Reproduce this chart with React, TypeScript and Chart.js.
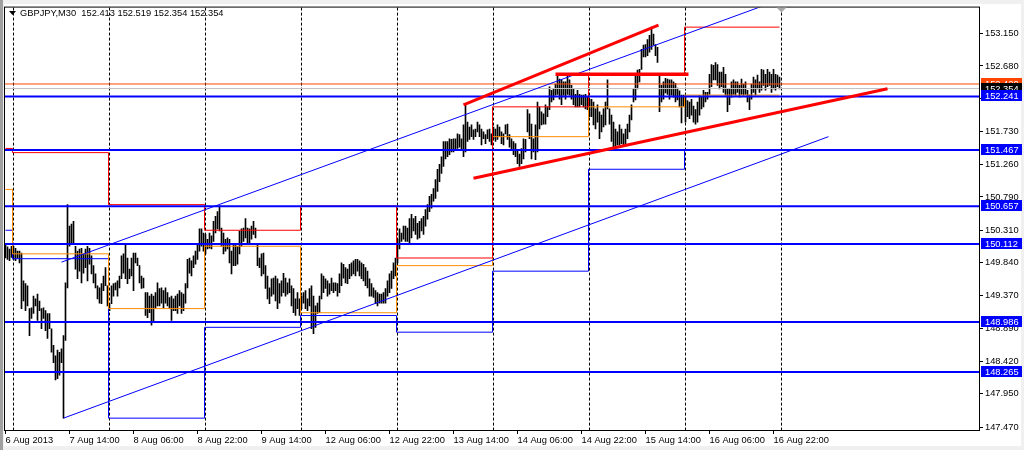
import React, { useEffect, useRef } from "react";
import { Chart, registerables } from "chart.js";
Chart.register(...registerables);

const titleText = "GBPJPY,M30  152.413 152.519 152.354 152.354";

const timeLabels = [
  "6 Aug 2013", "7 Aug 14:00", "8 Aug 06:00", "8 Aug 22:00", "9 Aug 14:00",
  "12 Aug 06:00", "12 Aug 22:00", "13 Aug 14:00", "14 Aug 06:00", "14 Aug 22:00",
  "15 Aug 14:00", "16 Aug 06:00", "16 Aug 22:00",
];
const timeLabelBars = [0, 32, 64, 96, 128, 160, 192, 224, 256, 288, 320, 352, 384];
const dayStartBars = [4, 52, 100, 148, 196, 244, 292, 340, 388];

const yTickValues = [153.15, 152.68, 152.21, 151.73, 151.26, 150.79, 150.31, 149.84, 149.37, 148.89, 148.42, 147.95, 147.47];

const barHigh = [
  150.10,150.07,150.04,150.08,150.08,150.05,150.01,150.01,149.98,149.58,
  149.54,149.51,149.18,149.19,149.36,149.32,149.39,149.29,149.18,149.19,
  149.15,149.11,149.11,148.89,148.65,148.50,148.58,148.55,148.60,148.79,
  149.55,150.68,150.37,150.40,150.44,150.08,150.01,150.04,150.05,149.97,
  150.04,150.08,150.05,149.94,149.80,149.68,149.51,149.48,149.54,149.65,
  149.77,149.51,149.25,149.51,149.54,149.55,149.58,149.65,149.94,149.97,
  150.11,149.91,149.75,149.91,149.98,149.98,149.91,149.80,149.65,149.62,
  149.41,149.41,149.36,149.39,149.36,149.41,149.55,149.47,149.48,149.44,
  149.48,149.41,149.34,149.36,149.32,149.36,149.39,149.44,149.41,149.39,
  149.54,149.89,149.91,149.87,149.94,150.01,150.12,150.33,150.33,150.27,
  150.25,150.18,150.27,150.23,150.44,150.51,150.58,150.66,150.34,150.27,
  150.18,150.20,150.18,150.01,150.12,150.11,150.08,150.30,150.33,150.34,
  150.48,150.34,150.33,150.37,150.44,150.34,150.12,149.91,149.97,149.98,
  149.80,149.65,149.48,149.61,149.62,149.65,149.61,149.54,149.58,149.69,
  149.62,149.55,149.61,149.51,149.47,149.32,149.41,149.32,149.36,149.41,
  149.44,149.32,149.47,149.51,149.36,149.22,149.26,149.36,149.68,149.65,
  149.61,149.58,149.54,149.62,149.55,149.55,149.54,149.68,149.84,149.82,
  149.77,149.75,149.82,149.84,149.87,149.89,149.89,149.87,149.84,149.82,
  149.77,149.72,149.61,149.54,149.48,149.44,149.41,149.39,149.39,149.41,
  149.47,149.58,149.68,149.72,149.84,149.91,150.18,150.33,150.27,150.37,
  150.37,150.34,150.48,150.54,150.48,150.51,150.41,150.44,150.48,150.51,
  150.61,150.68,150.80,150.83,150.91,151.04,151.19,151.26,151.37,151.59,
  151.59,151.59,151.63,151.62,151.63,151.63,151.70,151.69,151.63,151.83,
  152.12,151.87,151.80,151.83,151.76,151.77,151.87,151.83,151.77,151.73,
  151.69,151.76,151.77,151.70,151.80,151.77,151.83,151.80,151.73,151.70,
  151.83,151.84,151.69,151.63,151.59,151.56,151.47,151.41,151.49,151.63,
  151.62,152.05,151.99,151.84,151.63,151.83,152.16,152.09,152.02,151.99,
  152.12,152.09,152.38,152.33,152.35,152.42,152.55,152.49,152.48,152.45,
  152.45,152.55,152.48,152.40,152.35,152.27,152.33,152.27,152.26,152.26,
  152.27,152.23,152.20,152.20,152.16,152.06,152.12,152.02,151.97,152.06,
  152.16,152.48,152.06,151.97,151.87,151.77,151.73,151.83,151.77,151.70,
  151.77,151.84,151.97,152.12,152.35,152.55,152.62,152.63,152.92,152.98,
  152.99,153.06,153.12,153.24,153.14,152.99,152.95,152.56,152.40,152.45,
  152.50,152.49,152.48,152.48,152.45,152.43,152.36,152.32,152.26,152.26,
  152.23,152.18,152.16,152.20,152.10,152.05,152.16,152.25,152.23,152.33,
  152.30,152.30,152.56,152.70,152.69,152.73,152.70,152.59,152.59,152.66,
  152.56,152.35,152.35,152.45,152.48,152.45,152.45,152.40,152.49,152.42,
  152.45,152.33,152.26,152.42,152.52,152.48,152.55,152.45,152.63,152.62,
  152.56,152.63,152.59,152.56,152.63,152.56,152.55,152.52,
];

const barLow = [
  149.91,149.89,149.87,149.92,149.89,149.87,149.91,149.84,149.18,149.29,
  149.15,149.22,148.79,149.04,149.11,149.22,149.01,149.15,148.89,149.04,
  148.86,148.75,148.89,148.55,148.40,148.15,148.17,148.22,148.40,147.60,
  148.72,149.48,150.08,150.11,150.11,149.75,149.61,149.72,149.55,149.69,
  149.77,149.58,149.82,149.68,149.55,149.48,149.32,149.26,149.25,149.44,
  149.51,149.22,149.15,149.25,149.36,149.45,149.36,149.48,149.61,149.69,
  149.61,149.54,149.61,149.65,149.44,149.84,149.80,149.55,149.47,149.48,
  149.08,149.05,149.12,148.94,148.98,149.18,149.22,149.22,149.26,149.19,
  149.26,149.22,149.18,149.01,149.15,149.15,149.11,149.22,149.11,149.15,
  149.26,149.48,149.69,149.65,149.77,149.82,149.89,150.01,150.08,150.01,
  149.97,150.04,150.05,150.04,150.15,150.27,150.33,150.30,150.08,149.97,
  150.01,150.04,149.84,149.68,149.80,149.80,149.82,149.97,150.08,150.15,
  150.20,150.12,150.11,150.18,150.25,150.20,149.80,149.77,149.65,149.68,
  149.47,149.32,149.25,149.36,149.39,149.29,149.18,149.26,149.36,149.41,
  149.36,149.39,149.41,149.22,149.12,149.08,149.18,149.08,149.18,149.26,
  149.18,149.15,149.22,148.89,148.82,148.91,149.11,149.12,149.32,149.41,
  149.47,149.36,149.39,149.44,149.41,149.44,149.36,149.41,149.51,149.62,
  149.55,149.54,149.61,149.65,149.68,149.65,149.72,149.65,149.61,149.58,
  149.51,149.48,149.36,149.36,149.34,149.25,149.22,149.26,149.26,149.26,
  149.26,149.36,149.41,149.47,149.61,149.65,149.84,150.04,150.15,150.18,
  150.15,150.15,150.12,150.20,150.30,150.25,150.18,150.20,150.30,150.25,
  150.37,150.47,150.58,150.63,150.73,150.77,150.87,151.01,151.13,151.23,
  151.34,151.37,151.40,151.44,151.44,151.47,151.49,151.51,151.47,151.37,
  151.44,151.59,151.62,151.66,151.62,151.66,151.73,151.66,151.54,151.63,
  151.56,151.63,151.59,151.54,151.63,151.59,151.62,151.66,151.56,151.54,
  151.70,151.62,151.51,151.47,151.40,151.37,151.27,151.23,151.27,151.34,
  151.44,151.73,151.63,151.34,151.44,151.33,151.44,151.77,151.83,151.84,
  151.84,151.95,152.05,152.16,152.19,152.26,152.27,152.20,152.12,152.26,
  152.20,152.27,152.26,152.20,152.12,152.09,152.09,152.09,152.12,152.09,
  152.06,152.05,151.95,151.95,151.83,151.77,151.87,151.63,151.73,151.80,
  151.83,152.06,151.84,151.59,151.51,151.51,151.54,151.54,151.56,151.54,
  151.54,151.63,151.73,151.90,152.16,152.19,152.35,152.45,152.63,152.81,
  152.81,152.83,152.88,152.92,152.98,152.83,152.73,152.02,152.16,152.20,
  152.29,152.27,152.20,152.26,152.23,152.16,152.19,152.09,151.86,152.10,
  151.87,151.95,151.92,151.97,151.87,151.84,151.87,151.97,152.06,152.09,
  152.16,152.20,152.27,152.38,152.48,152.48,152.40,152.35,152.38,152.30,
  152.26,152.02,152.12,152.23,152.27,152.26,152.30,152.23,152.27,152.26,
  152.27,152.16,152.05,152.20,152.30,152.26,152.35,152.30,152.33,152.40,
  152.33,152.38,152.40,152.30,152.35,152.33,152.38,152.35,
];

// horizontal support/resistance levels (blue)
const levelPrices = [152.241, 151.467, 150.657, 150.112, 148.986, 148.265];
const askPrice = 152.42;
const bidPrice = 152.354;

// previous-day indicator step lines (value switches at the end of each day)
const stepStarts = [0, 3.5, 51.5, 99.5, 147.5, 195.5, 243.5, 291.5, 339.5];
const stepEndBar = 387;
const prevDayHigh = [151.49, 151.43, 150.68, 150.31, 150.66, 149.91, 152.09, 152.56, 153.24];
const prevDayClose = [150.90, 149.97, 149.18, 150.08, 149.12, 149.80, 151.66, 152.09, 152.26];
const prevDayLow = [150.31, 149.90, 147.60, 148.91, 149.08, 148.84, 149.72, 151.19, 151.47];

// trend lines: [bar, price] pairs
const channelUpperBars = [28, 380];
const channelUpperPrices = [149.85, 153.56];
const channelLowerBars = [29, 411.5];
const channelLowerPrices = [147.60, 151.66];
const wedgeTopBars = [229, 326.5];
const wedgeTopPrices = [152.12, 153.27];
const wedgeBottomBars = [234, 441];
const wedgeBottomPrices = [151.06, 152.35];
const flatTopBars = [275, 341.5];
const flatTopPrices = [152.56, 152.56];

const X_MIN = -0.25;
const X_MAX = 486.75;
const Y_MIN = 147.429;
const Y_MAX = 153.522;

const FONT = "Liberation Sans";
const FSIZE = 9.3;

function pts(bars: number[], prices: number[]) {
  return bars.map((b, i) => ({ x: b, y: prices[i] }));
}
function steps(vals: number[]) {
  const d = stepStarts.map((s, k) => ({ x: s, y: vals[k] }));
  d.push({ x: stepEndBar, y: vals[vals.length - 1] });
  return d;
}

const decorPlugin = {
  id: "decor",
  beforeDraw(chart: any) {
    const ctx = chart.ctx;
    ctx.save();
    ctx.fillStyle = "#F0F0F0";
    ctx.fillRect(0, 0, chart.width, chart.height);
    ctx.fillStyle = "#FFFFFF";
    ctx.fillRect(4, 4, 1017, 442);
    ctx.fillStyle = "#A0A0A0";
    ctx.fillRect(0, 0, 3, chart.height);
    ctx.restore();
  },
  beforeDatasetsDraw(chart: any) {
    const ctx = chart.ctx;
    const a = chart.chartArea;
    const xs = chart.scales.x;
    ctx.save();
    ctx.strokeStyle = "#000";
    ctx.lineWidth = 1;
    ctx.setLineDash([3, 2]);
    for (const b of dayStartBars) {
      const px = Math.floor(xs.getPixelForValue(b)) + 0.5;
      ctx.beginPath();
      ctx.moveTo(px, a.top);
      ctx.lineTo(px, a.bottom);
      ctx.stroke();
    }
    ctx.restore();
  },
  afterDatasetsDraw(chart: any) {
    const ctx = chart.ctx;
    const a = chart.chartArea;
    const ys = chart.scales.y;
    const xs = chart.scales.x;
    ctx.save();
    // frame
    ctx.strokeStyle = "#000";
    ctx.lineWidth = 1;
    ctx.strokeRect(a.left - 0.5, a.top - 0.5, a.right - a.left + 1, a.bottom - a.top + 1);
    // chart shift marker
    const sx = xs.getPixelForValue(388);
    ctx.fillStyle = "#A8A8A8";
    ctx.beginPath();
    ctx.moveTo(sx - 5, a.top);
    ctx.lineTo(sx + 5, a.top);
    ctx.lineTo(sx, a.top + 5);
    ctx.closePath();
    ctx.fill();
    // price labels on the right
    ctx.font = `${FSIZE}px "${FONT}"`;
    ctx.textBaseline = "middle";
    ctx.textAlign = "left";
    const tag = (price: number, bg: string, fg: string) => {
      const py = Math.round(ys.getPixelForValue(price));
      ctx.fillStyle = bg;
      ctx.fillRect(a.right + 2, py - 6, 41, 11);
      ctx.fillStyle = fg;
      ctx.fillText(price.toFixed(3), a.right + 6, py);
    };
    tag(askPrice, "#FF4500", "#FFFFFF");
    tag(bidPrice, "#000000", "#FFFFFF");
    for (const lv of levelPrices) tag(lv, "#0000FF", "#FFFFFF");
    // title
    ctx.fillStyle = "#000";
    ctx.beginPath();
    ctx.moveTo(9, 11);
    ctx.lineTo(16, 11);
    ctx.lineTo(12.5, 15);
    ctx.closePath();
    ctx.fill();
    ctx.textBaseline = "alphabetic";
    ctx.fillText(titleText, 20, 16);
    ctx.restore();
  },
};

export default function App() {
  const ref = useRef<HTMLCanvasElement>(null);
  useEffect(() => {
    const lineBase = { type: "line" as const, pointRadius: 0, pointHoverRadius: 0, tension: 0, fill: false };
    const datasets: any[] = [
      {
        type: "bar",
        data: barHigh.map((h, i) => ({ x: i, y: [barLow[i], h] })),
        backgroundColor: "#000000",
        borderWidth: 0,
        barThickness: 1,
        order: 10,
      },
      { ...lineBase, data: steps(prevDayHigh), borderColor: "#FF0000", borderWidth: 1, stepped: true, order: 6 },
      { ...lineBase, data: steps(prevDayClose), borderColor: "#FF8C00", borderWidth: 1, stepped: true, order: 6 },
      { ...lineBase, data: steps(prevDayLow), borderColor: "#0000FF", borderWidth: 1, stepped: true, order: 6 },
      { ...lineBase, data: [{ x: X_MIN, y: bidPrice }, { x: X_MAX, y: bidPrice }], borderColor: "#C0C0C0", borderWidth: 1, order: 5 },
      { ...lineBase, data: [{ x: X_MIN, y: askPrice }, { x: X_MAX, y: askPrice }], borderColor: "#FF4500", borderWidth: 1, order: 5 },
      ...levelPrices.map((lv) => ({
        ...lineBase,
        data: [{ x: X_MIN, y: lv }, { x: X_MAX, y: lv }],
        borderColor: "#0000FF",
        borderWidth: 2,
        order: 4,
      })),
      { ...lineBase, data: pts(channelUpperBars, channelUpperPrices), borderColor: "#0000FF", borderWidth: 1, order: 3 },
      { ...lineBase, data: pts(channelLowerBars, channelLowerPrices), borderColor: "#0000FF", borderWidth: 1, order: 3 },
      { ...lineBase, data: pts(wedgeTopBars, wedgeTopPrices), borderColor: "#FF0000", borderWidth: 3, order: 2 },
      { ...lineBase, data: pts(wedgeBottomBars, wedgeBottomPrices), borderColor: "#FF0000", borderWidth: 3, order: 2 },
      { ...lineBase, data: pts(flatTopBars, flatTopPrices), borderColor: "#FF0000", borderWidth: 3.5, order: 2 },
    ];
    const chart = new Chart(ref.current as HTMLCanvasElement, {
      type: "bar",
      data: { datasets },
      options: {
        animation: false,
        responsive: false,
        events: [],
        layout: { padding: { left: 5, top: 5, right: 0, bottom: 0 } },
        plugins: { legend: { display: false }, tooltip: { enabled: false } },
        scales: {
          x: {
            type: "linear",
            min: X_MIN,
            max: X_MAX,
            offset: false,
            position: "bottom",
            afterBuildTicks: (s: any) => {
              s.ticks = timeLabelBars.map((v) => ({ value: v }));
            },
            afterFit: (s: any) => {
              s.height = 20;
            },
            ticks: {
              autoSkip: false,
              maxRotation: 0,
              minRotation: 0,
              align: "start",
              padding: 1,
              color: "#000",
              font: { family: FONT, size: FSIZE },
              callback: (_v: any, idx: number) => timeLabels[idx],
            },
            grid: { drawOnChartArea: false, drawTicks: true, tickLength: 4, color: "#000", offset: false },
            border: { display: false },
          },
          y: {
            type: "linear",
            position: "right",
            min: Y_MIN,
            max: Y_MAX,
            afterBuildTicks: (s: any) => {
              s.ticks = yTickValues.map((v) => ({ value: v }));
            },
            afterFit: (s: any) => {
              s.width = 45;
            },
            ticks: {
              autoSkip: false,
              padding: 2,
              color: "#000",
              font: { family: FONT, size: FSIZE },
              callback: (v: any) => Number(v).toFixed(3),
            },
            grid: { drawOnChartArea: false, drawTicks: true, tickLength: 4, color: "#000" },
            border: { display: false },
          },
        },
      } as any,
      plugins: [decorPlugin],
    });
    return () => chart.destroy();
  }, []);
  return (
    <div style={{ position: "fixed", left: 0, top: 0, width: 1024, height: 450, background: "#fff" }}>
      <canvas ref={ref} width={1024} height={450} style={{ display: "block", width: 1024, height: 450 }} />
    </div>
  );
}
